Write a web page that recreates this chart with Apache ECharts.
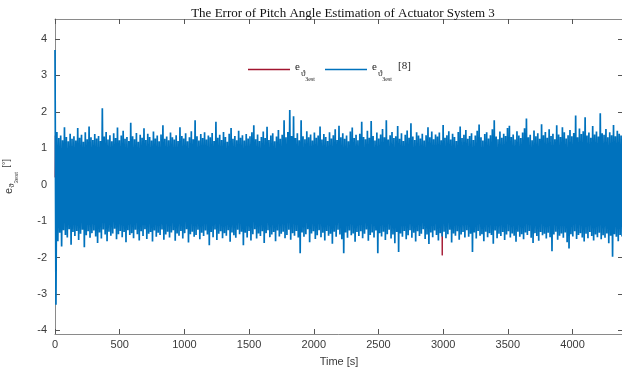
<!DOCTYPE html>
<html><head><meta charset="utf-8">
<script src="https://cdn.jsdelivr.net/npm/echarts@6/dist/echarts.min.js"></script>
<style>html,body{margin:0;padding:0;background:#fff}#c{width:622px;height:376px}</style>
</head><body><div id="c"></div>
<script>
// ---- data ----
const sampleStep = 14.633; // seconds between envelope samples (blue series)
const blueHigh = [
3.70,1.45,1.28,1.35,1.22,1.58,1.31,1.19,1.40,1.26,1.33,1.21,1.56,1.29,1.37,1.18,1.44,1.25,1.60,1.30,
1.23,1.39,1.27,1.34,1.20,2.10,1.32,1.45,1.24,1.36,1.19,1.41,1.28,1.57,1.22,1.35,1.48,1.26,1.31,1.20,
1.70,1.33,1.25,1.42,1.18,1.37,1.29,1.55,1.23,1.40,1.31,1.21,1.46,1.27,1.35,1.19,1.38,1.63,1.26,1.32,
1.22,1.43,1.30,1.24,1.36,1.20,1.58,1.34,1.27,1.41,1.19,1.30,1.47,1.25,1.77,1.33,1.21,1.39,1.28,1.44,
1.24,1.35,1.30,1.42,1.20,1.73,1.29,1.37,1.23,1.45,1.31,1.18,1.40,1.56,1.26,1.34,1.22,1.48,1.29,1.36,
1.21,1.39,1.27,1.33,1.44,1.63,1.25,1.38,1.20,1.31,1.46,1.28,1.59,1.23,1.35,1.41,1.19,1.32,1.50,1.26,
1.37,1.77,1.30,1.45,2.05,1.34,1.88,1.28,1.41,1.22,1.77,1.33,1.25,1.47,1.30,1.38,1.21,1.43,1.29,1.35,
1.60,1.24,1.39,1.31,1.20,1.44,1.27,1.36,1.52,1.23,1.62,1.30,1.41,1.26,1.35,1.19,1.46,1.57,1.28,1.37,
1.22,1.40,1.73,1.31,1.25,1.48,1.29,1.75,1.34,1.21,1.43,1.27,1.38,1.53,1.30,1.77,1.24,1.36,1.45,1.28,
1.33,1.61,1.26,1.41,1.20,1.37,1.49,1.29,1.69,1.32,1.23,1.44,1.35,1.27,1.40,1.21,1.36,1.58,1.30,1.46,
1.25,1.38,1.32,1.43,1.22,1.64,1.29,1.36,1.47,1.24,1.40,1.31,1.20,1.45,1.60,1.28,1.37,1.50,1.26,1.34,
1.41,1.23,1.35,1.48,1.65,1.30,1.21,1.39,1.44,1.27,1.36,1.52,1.77,1.32,1.25,1.46,1.29,1.40,1.34,1.56,
1.62,1.31,1.38,1.24,1.47,1.35,1.28,1.43,1.55,1.82,1.30,1.37,1.22,1.49,1.33,1.41,1.26,1.66,1.36,1.45,
1.29,1.52,1.34,1.40,1.25,1.63,1.38,1.31,1.58,1.44,1.27,1.36,1.50,1.33,1.42,1.90,1.30,1.54,1.39,1.47,
1.85,1.35,1.43,1.29,1.61,1.38,1.46,1.32,1.96,1.41,1.37,1.53,1.30,1.44,1.36,1.64,1.33,1.48,1.40,1.35
];
const blueLow = [
-3.30,-1.55,-1.32,-1.70,-1.25,-1.38,-1.45,-1.22,-1.65,-1.30,-1.41,-1.27,-1.52,-1.35,-1.24,-1.72,-1.39,-1.28,-1.46,-1.33,
-1.26,-1.42,-1.60,-1.31,-1.48,-1.23,-1.37,-1.55,-1.29,-1.40,-1.34,-1.21,-1.50,-1.36,-1.27,-1.44,-1.30,-1.58,-1.25,-1.38,
-1.33,-1.47,-1.24,-1.36,-1.53,-1.28,-1.41,-1.22,-1.49,-1.35,-1.30,-1.56,-1.26,-1.43,-1.32,-1.38,-1.23,-1.51,-1.37,-1.29,
-1.45,-1.31,-1.25,-1.54,-1.34,-1.40,-1.27,-1.48,-1.33,-1.22,-1.59,-1.36,-1.29,-1.43,-1.38,-1.24,-1.50,-1.32,-1.41,-1.26,
-1.37,-1.66,-1.30,-1.44,-1.23,-1.52,-1.35,-1.28,-1.47,-1.33,-1.40,-1.25,-1.57,-1.31,-1.39,-1.46,-1.24,-1.36,-1.29,-1.66,
-1.32,-1.45,-1.27,-1.53,-1.36,-1.22,-1.48,-1.34,-1.41,-1.28,-1.60,-1.33,-1.25,-1.44,-1.37,-1.30,-1.55,-1.26,-1.42,-1.35,
-1.29,-1.47,-1.38,-1.24,-1.51,-1.33,-1.40,-1.27,-1.45,-1.88,-1.31,-1.43,-1.36,-1.22,-1.58,-1.34,-1.28,-1.49,-1.39,-1.25,
-1.44,-1.32,-1.53,-1.27,-1.40,-1.35,-1.62,-1.29,-1.43,-1.24,-1.37,-1.50,-1.88,-1.31,-1.46,-1.26,-1.39,-1.34,-1.57,-1.30,
-1.41,-1.28,-1.47,-1.35,-1.23,-1.54,-1.38,-1.31,-1.45,-1.26,-1.88,-1.33,-1.42,-1.29,-1.52,-1.36,-1.24,-1.48,-1.37,-1.61,
-1.30,-1.85,-1.34,-1.43,-1.27,-1.50,-1.39,-1.25,-1.46,-1.32,-1.56,-1.28,-1.41,-1.35,-1.22,-1.49,-1.37,-1.63,-1.31,-1.44,
-1.26,-1.38,-1.53,-1.33,-1.42,-1.29,-1.47,-1.36,-1.24,-1.59,-1.34,-1.40,-1.28,-1.51,-1.37,-1.30,-1.45,-1.25,-1.43,-1.35,
-1.85,-1.31,-1.48,-1.27,-1.40,-1.36,-1.55,-1.29,-1.44,-1.33,-1.38,-1.62,-1.26,-1.47,-1.35,-1.41,-1.30,-1.52,-1.37,-1.28,
-1.45,-1.34,-1.40,-1.57,-1.29,-1.43,-1.36,-1.50,-1.31,-1.38,-1.27,-1.46,-1.60,-1.33,-1.41,-1.54,-1.30,-1.39,-1.35,-1.48,
-1.32,-1.44,-1.83,-1.37,-1.29,-1.51,-1.40,-1.34,-1.46,-1.31,-1.58,-1.75,-1.36,-1.42,-1.28,-1.49,-1.38,-1.33,-1.45,-1.56,
-1.35,-1.47,-1.30,-1.41,-1.53,-1.37,-1.44,-1.32,-1.50,-1.39,-1.46,-1.34,-1.61,-1.40,-1.98,-1.36,-1.43,-1.55,-1.38,-1.42
];
const redTime = [0,3,7,11,15,25,100,200,300,400,500,600,700,800,900,1000,1100,1200,1300,1400,1500,1600,1700,1800,1900,2000,2100,2200,2300,2400,2500,2600,2700,2800,2900,2986,2993,3000,3100,3200,3300,3400,3500,3600,3700,3800,3900,4000,4100,4200,4300,4390];
const redValue = [0.2,1.35,-1.6,0.9,-0.8,0.6,-0.7,0.8,-0.6,0.7,-0.8,0.6,-0.7,0.8,-0.6,0.7,-0.8,0.6,-0.7,0.8,-0.6,0.7,-0.8,0.6,-0.7,0.8,-0.6,0.7,-0.8,0.6,-0.7,0.8,-0.6,0.7,-0.8,0.2,-1.94,0.3,-0.7,0.8,-0.6,0.7,-0.8,0.6,-0.7,0.8,-0.6,0.7,-0.8,0.6,-0.7,0.5];
const xTicks = [0,500,1000,1500,2000,2500,3000,3500,4000];
const yTicks = [-4,-3,-2,-1,0,1,2,3,4];
const seriesNames = ['e_ϑ3est', 'e_ϑ3est [8]'];
const titleText = 'The Error of Pitch Angle Estimation of Actuator System 3';
const xName = 'Time [s]';

// ---- build ----
const blueData = [];
for (let i = 0; i < blueHigh.length; i++) {
  blueData.push([i * sampleStep, blueHigh[i]]);
  blueData.push([i * sampleStep + sampleStep / 2, blueLow[i]]);
}
const redData = redTime.map((t, i) => [t, redValue[i]]);

const axisCol = '#8a8a8a';
const labCol = '#3a3a3a';
const sans = 'Liberation Sans, Arial, sans-serif';
const serif = 'Liberation Serif, Times New Roman, serif';

const chart = echarts.init(document.getElementById('c'), null, {renderer: 'canvas'});
const baseX = {
  type: 'value', min: 0, max: 4390,
  axisLine: {show: true, onZero: false, lineStyle: {color: axisCol, width: 1}},
  splitLine: {show: false},
};
const baseY = {
  type: 'value', min: -4.1, max: 4.55,
  axisLine: {show: true, onZero: false, lineStyle: {color: axisCol, width: 1}},
  splitLine: {show: false},
};
const plain = v => String(v);
chart.setOption({
  animation: false,
  backgroundColor: '#fff',
  title: {
    text: titleText, left: 338, top: 2, textAlign: 'center',
    textStyle: {fontFamily: serif, fontSize: 13, fontWeight: 'normal', color: '#111'}
  },
  grid: {left: 55, right: -1, top: 19, bottom: 42, containLabel: false, outerBoundsMode: 'none'},
  legend: {
    left: 243, top: 56, itemWidth: 42, itemHeight: 1.5, itemGap: 10, icon: 'rect',
    data: seriesNames,
    formatter: n => n === seriesNames[0]
      ? '{e|e}{s|ϑ}{ss|3est}'
      : '{e|e}{s|ϑ}{ss|3est}{r|[8]}',
    textStyle: {
      color: '#222', fontFamily: serif,
      rich: {
        e: {fontSize: 11, fontFamily: serif, color: '#222', padding: [0, 1, 4, 0]},
        s: {fontSize: 9, fontFamily: serif, color: '#222', padding: [8, 0, 0, 0]},
        ss: {fontSize: 6, fontFamily: serif, color: '#222', padding: [20, 0, 0, 0]},
        r: {fontSize: 11, fontFamily: serif, color: '#222', padding: [0, 0, 6, 6]}
      }
    }
  },
  xAxis: [
    Object.assign({}, baseX, {
      position: 'bottom',
      name: xName, nameLocation: 'middle', nameGap: 22,
      nameTextStyle: {fontFamily: sans, fontSize: 11, color: labCol},
      axisTick: {show: true, inside: true, length: 5, customValues: xTicks, lineStyle: {color: '#555'}},
      axisLabel: {show: true, customValues: xTicks, formatter: plain, margin: 5, fontFamily: sans, fontSize: 11, color: labCol}
    }),
    Object.assign({}, baseX, {
      position: 'top',
      axisTick: {show: true, inside: true, length: 5, customValues: xTicks, lineStyle: {color: '#555'}},
      axisLabel: {show: false}
    })
  ],
  yAxis: [
    Object.assign({}, baseY, {
      position: 'left',
      name: '{e|e}{s|ϑ}{ss|3est}{u| [°]}', nameLocation: 'middle', nameGap: 36, nameRotate: 90,
      nameTextStyle: {
        fontFamily: sans, fontSize: 11, color: labCol,
        rich: {
          e: {fontSize: 11, fontFamily: sans, color: labCol},
          s: {fontSize: 8, fontFamily: sans, color: labCol, padding: [6, 0, 0, 0]},
          ss: {fontSize: 6, fontFamily: sans, color: labCol, padding: [15, 0, 0, 0]},
          u: {fontSize: 9, fontFamily: sans, color: labCol, padding: [0, 0, 4, 2]}
        }
      },
      axisTick: {show: true, inside: true, length: 5, customValues: yTicks, lineStyle: {color: '#555'}},
      axisLabel: {show: true, customValues: yTicks, formatter: plain, margin: 8, fontFamily: sans, fontSize: 11, color: labCol}
    }),
    Object.assign({}, baseY, {
      position: 'right',
      axisTick: {show: true, inside: true, length: 5, customValues: yTicks, lineStyle: {color: '#555'}},
      axisLabel: {show: false}
    })
  ],
  series: [
    {
      name: seriesNames[0], type: 'line', data: redData, xAxisIndex: 0, yAxisIndex: 0,
      showSymbol: false, symbol: 'none', sampling: null,
      lineStyle: {color: '#A2142F', width: 1}, itemStyle: {color: '#A2142F'}, z: 2
    },
    {
      name: seriesNames[1], type: 'line', data: blueData, xAxisIndex: 0, yAxisIndex: 0,
      showSymbol: false, symbol: 'none', sampling: null,
      lineStyle: {color: '#0072BD', width: 1.7, join: 'bevel'}, itemStyle: {color: '#0072BD'}, z: 3
    }
  ]
});
</script></body></html>
